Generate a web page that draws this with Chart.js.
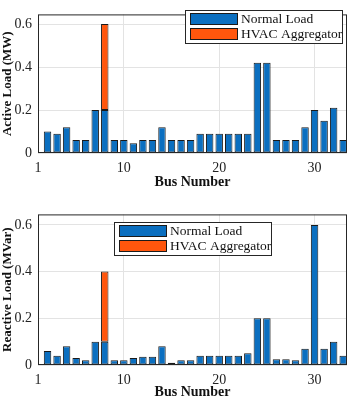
<!DOCTYPE html>
<html lang="en">
  <head>
    <meta charset="utf-8" />
    <title>Bus loads</title>
    <style>
      * {
        margin: 0;
        padding: 0;
      }
      body {
        background: white;
      }
      .chartBox {
        position: absolute;
        left: 0;
        width: 349px;
        height: 200px;
      }
    </style>
  </head>
  <body>
    <div class="chartBox" style="top: 0px"><canvas id="activeChart"></canvas></div>
    <div class="chartBox" style="top: 200px"><canvas id="reactiveChart"></canvas></div>

    <script src="https://cdn.jsdelivr.net/npm/chart.js"></script>
    <script>
      // data block
      const buses = [2, 3, 4, 5, 6, 7, 8, 9, 10, 11, 12, 13, 14, 15, 16, 17,
        18, 19, 20, 21, 22, 23, 24, 25, 26, 27, 28, 29, 30, 31, 32, 33];
      const activeLoad = [0.1, 0.09, 0.12, 0.06, 0.06, 0.2, 0.2, 0.06, 0.06, 0.045,
        0.06, 0.06, 0.12, 0.06, 0.06, 0.06, 0.09, 0.09, 0.09, 0.09, 0.09, 0.09,
        0.42, 0.42, 0.06, 0.06, 0.06, 0.12, 0.2, 0.15, 0.21, 0.06];
      const reactiveLoad = [0.06, 0.04, 0.08, 0.03, 0.02, 0.1, 0.1, 0.02, 0.02, 0.03,
        0.035, 0.035, 0.08, 0.01, 0.02, 0.02, 0.04, 0.04, 0.04, 0.04, 0.04, 0.05,
        0.2, 0.2, 0.025, 0.025, 0.02, 0.07, 0.6, 0.07, 0.1, 0.04];
      const hvacBuses = [8];
      const hvacActive = [0.4];
      const hvacReactive = [0.3];
      const xTicks = [1, 10, 20, 30];
      const yTicks = [0, 0.2, 0.4, 0.6];

      const BLUE = "#0B6FC0";
      const ORANGE = "#FF560D";
      const SERIF = "'Liberation Serif', 'Times New Roman', serif";

      const points = (xs, ys) => xs.map((x, i) => ({ x: x, y: ys[i] }));

      // box + legend drawn inside the plot area
      const frameLegend = {
        id: "frameLegend",
        afterDraw(chart, args, opts) {
          const { ctx, chartArea: { left, right, top, bottom } } = chart;
          ctx.save();
          ctx.strokeStyle = "#262626";
          ctx.lineWidth = 1;
          ctx.strokeRect(left + 0.5, top + 0.5, right - left - 1, bottom - top - 1);

          // legend
          const lx = opts.x, ly = opts.y, lw = 157, lh = 33;
          ctx.fillStyle = "white";
          ctx.fillRect(lx, ly, lw, lh);
          ctx.strokeRect(lx + 0.5, ly + 0.5, lw, lh);
          ctx.font = "13.5px " + SERIF;
          ctx.textBaseline = "middle";
          chart.data.datasets.forEach((ds, i) => {
            const rowY = ly + 3 + i * 15;
            ctx.fillStyle = ds.backgroundColor;
            ctx.fillRect(lx + 5, rowY, 48, 12);
            ctx.strokeStyle = "#1a1a1a";
            ctx.strokeRect(lx + 5.5, rowY + 0.5, 47, 11);
            ctx.fillStyle = "#111";
            ctx.fillText(ds.label, lx + 56, rowY + 6.5);
          });
          ctx.restore();
        },
      };

      const makeConfig = (loads, hvac, yTitle, padTop, xHeight, titlePad, legendPos) => ({
        type: "bar",
        data: {
          datasets: [
            {
              label: "Normal Load",
              data: points(buses, loads),
              backgroundColor: BLUE,
              borderColor: "#1a1a1a",
              borderWidth: 1,
              borderSkipped: false,
              categoryPercentage: 1,
              barPercentage: 0.78,
            },
            {
              label: "HVAC Aggregator",
              data: points(hvacBuses, hvac),
              backgroundColor: ORANGE,
              borderColor: "#1a1a1a",
              borderWidth: 1,
              borderSkipped: false,
              categoryPercentage: 1,
              barPercentage: 0.78,
            },
          ],
        },
        options: {
          responsive: true,
          maintainAspectRatio: false,
          animation: false,
          layout: { padding: { top: padTop, right: 2, left: 0, bottom: 0 } },
          plugins: {
            legend: { display: false },
            tooltip: { enabled: false },
            frameLegend: legendPos,
          },
          scales: {
            x: {
              type: "linear",
              offset: false,
              stacked: true,
              min: 1,
              max: 33.4,
              afterBuildTicks: (axis) => {
                axis.ticks = xTicks.map((v) => ({ value: v }));
              },
              afterFit: (axis) => {
                axis.height = xHeight;
              },
              grid: { color: "#e3e3e3", drawTicks: false, offset: false },
              border: { display: false },
              ticks: {
                padding: 7,
                color: "#222",
                font: { family: SERIF, size: 14 },
                maxRotation: 0,
              },
              title: {
                display: true,
                text: "Bus Number",
                color: "#111",
                font: { family: SERIF, size: 14, weight: "bold" },
                padding: { top: 0, bottom: titlePad },
              },
            },
            y: {
              stacked: true,
              min: 0,
              max: 0.645,
              afterBuildTicks: (axis) => {
                axis.ticks = yTicks.map((v) => ({ value: v }));
              },
              afterFit: (axis) => {
                axis.width = 38;
              },
              grid: { color: "#e3e3e3", drawTicks: false },
              border: { display: false },
              ticks: {
                padding: 6,
                color: "#222",
                font: { family: SERIF, size: 14 },
                callback: (v) => String(v),
              },
              title: {
                display: true,
                text: yTitle,
                color: "#111",
                font: { family: SERIF, size: 13, weight: "bold" },
                padding: { top: 0, bottom: 0 },
              },
            },
          },
        },
        plugins: [frameLegend],
      });

      // init render block
      const activeChart = new Chart(
        document.getElementById("activeChart"),
        makeConfig(activeLoad, hvacActive, "Active Load (MW)", 2, 47, 9, { x: 185, y: 10 })
      );
      const reactiveChart = new Chart(
        document.getElementById("reactiveChart"),
        makeConfig(reactiveLoad, hvacReactive, "Reactive Load (MVar)", 14, 35, -1, { x: 114, y: 22 })
      );
    </script>
  </body>
</html>
